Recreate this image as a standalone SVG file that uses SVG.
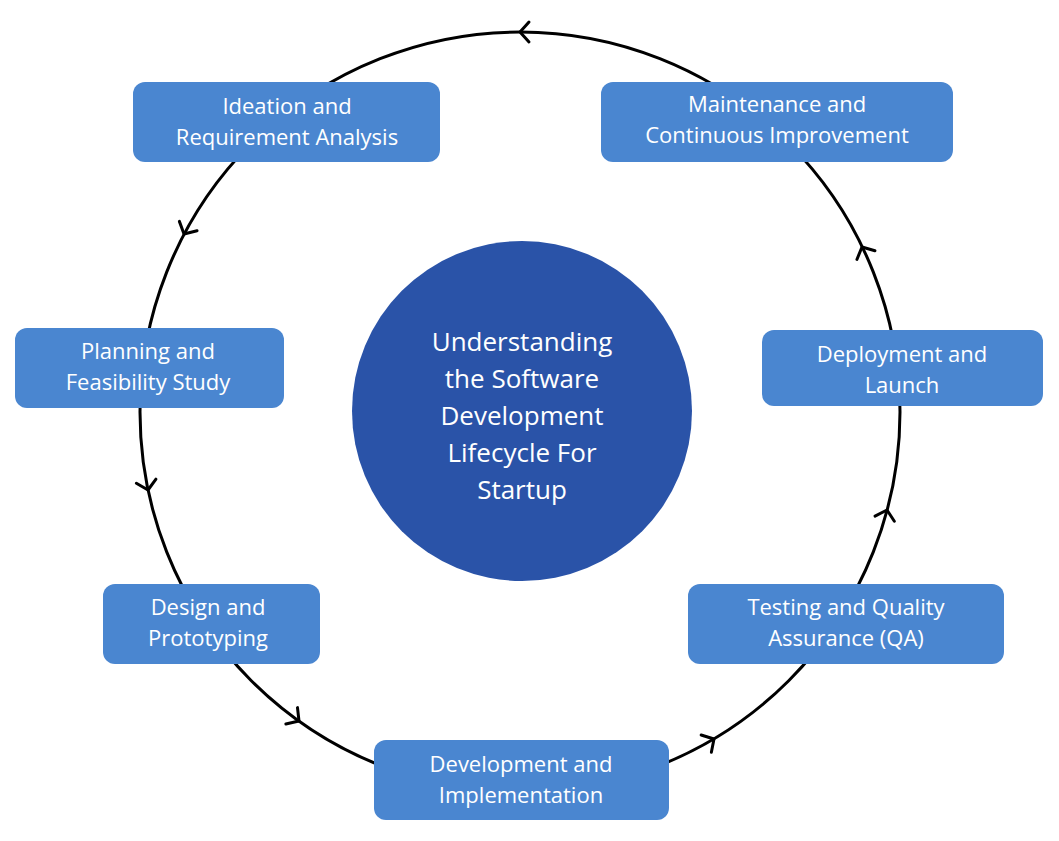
<svg xmlns="http://www.w3.org/2000/svg" width="1059" height="841" viewBox="0 0 1059 841">
<style>
.box{fill:#4a86d0}
.t{fill:#fff;font-family:"Open Sans",sans-serif;font-size:22px;text-anchor:middle}
.c{fill:#fff;font-family:"Open Sans",sans-serif;font-size:26px;text-anchor:middle}
.a{fill:none;stroke:#000;stroke-width:3;stroke-linecap:round;stroke-linejoin:round}
</style>
<rect width="1059" height="841" fill="#fff"/>
<g id="connectors">
<circle cx="520" cy="412" r="380" class="a"/>
<polyline class="a" points="-9,-10 0,0 -9,10" transform="translate(520,32) rotate(-180)"/>
<polyline class="a" points="-9,-10 0,0 -9,10" transform="translate(184,234) rotate(117.9)"/>
<polyline class="a" points="-9,-10 0,0 -9,10" transform="translate(148,490) rotate(78.2)"/>
<polyline class="a" points="-9,-10 0,0 -9,10" transform="translate(299,721) rotate(35.5)"/>
<polyline class="a" points="-9,-10 0,0 -9,10" transform="translate(714,739) rotate(-30.7)"/>
<polyline class="a" points="-9,-10 0,0 -9,10" transform="translate(887,510) rotate(-75.1)"/>
<polyline class="a" points="-9,-10 0,0 -9,10" transform="translate(862,247) rotate(-115.8)"/>
</g>
<g id="center"><circle cx="522" cy="411" r="170" fill="#2a53a8"/>
<text class="c" x="522" y="351">Understanding</text>
<text class="c" x="522" y="388">the Software</text>
<text class="c" x="522" y="425">Development</text>
<text class="c" x="522" y="462">Lifecycle For</text>
<text class="c" x="522" y="499">Startup</text></g>
<g id="n1"><rect class="box" x="133" y="82" width="307" height="80" rx="12"/><text class="t" x="287" y="114">Ideation and</text><text class="t" x="287" y="145">Requirement Analysis</text></g>
<g id="n2"><rect class="box" x="601" y="82" width="352" height="80" rx="12"/><text class="t" x="777" y="112">Maintenance and</text><text class="t" x="777" y="143">Continuous Improvement</text></g>
<g id="n3"><rect class="box" x="15" y="328" width="269" height="80" rx="12"/><text class="t" x="148" y="359">Planning and</text><text class="t" x="148" y="390">Feasibility Study</text></g>
<g id="n4"><rect class="box" x="762" y="330" width="281" height="76" rx="12"/><text class="t" x="902" y="362">Deployment and</text><text class="t" x="902" y="393">Launch</text></g>
<g id="n5"><rect class="box" x="103" y="584" width="217" height="80" rx="12"/><text class="t" x="208" y="615">Design and</text><text class="t" x="208" y="646">Prototyping</text></g>
<g id="n6"><rect class="box" x="688" y="584" width="316" height="80" rx="12"/><text class="t" x="846" y="615">Testing and Quality</text><text class="t" x="846" y="646">Assurance (QA)</text></g>
<g id="n7"><rect class="box" x="374" y="740" width="295" height="80" rx="12"/><text class="t" x="521" y="772">Development and</text><text class="t" x="521" y="803">Implementation</text></g>
</svg>
